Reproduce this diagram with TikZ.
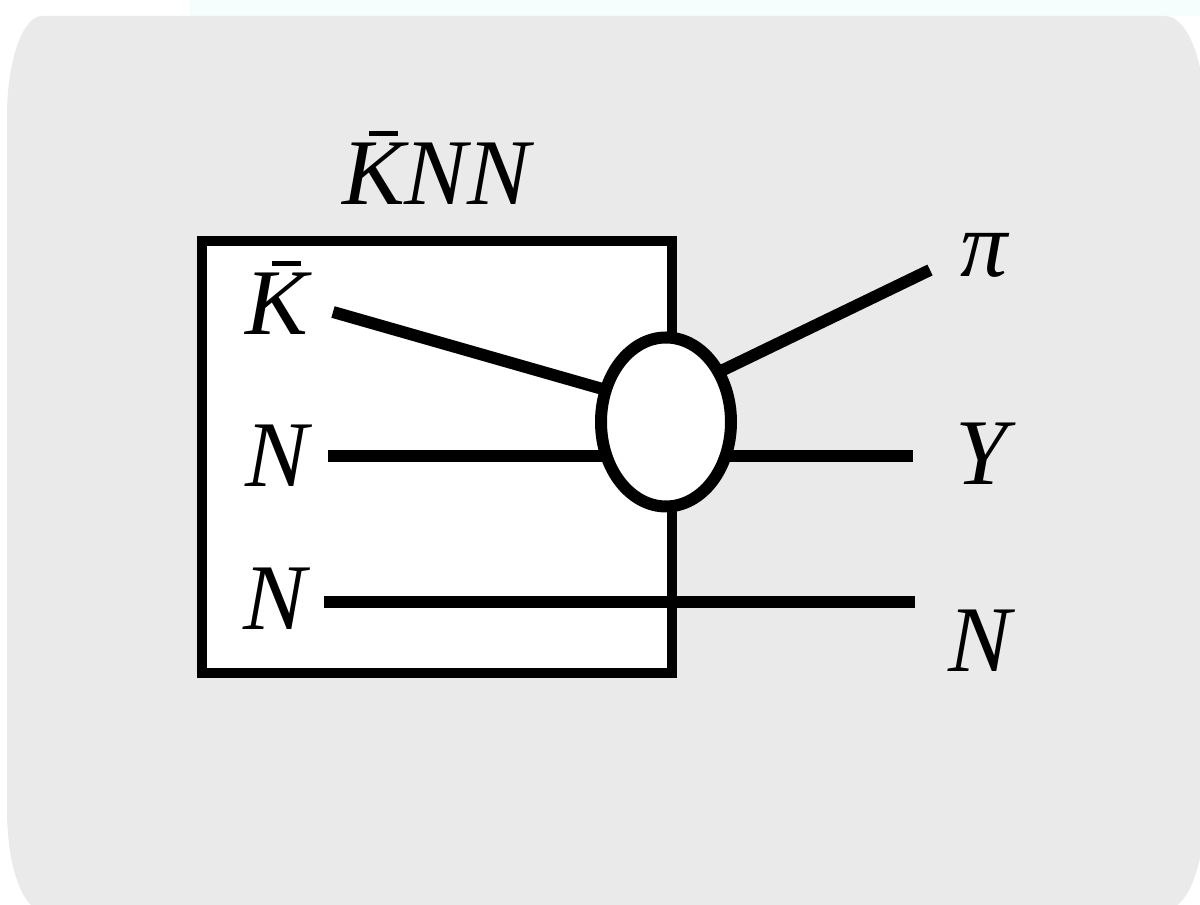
\documentclass[tikz,border=0pt]{standalone}
\usepackage{fontspec}
\setmainfont{Liberation Serif}[ItalicFont={Liberation Serif Italic}]
\usetikzlibrary{shapes.geometric}
\definecolor{panelgrey}{RGB}{234,234,234}
\definecolor{faintcyan}{RGB}{246,253,253}
\newcommand\barK{\rlap{\kern 27pt\raisebox{69pt}{\rule{29pt}{4.5pt}}}K}
\begin{document}
\begin{tikzpicture}[x=1pt,y=1pt,
  lbl/.style={anchor=base west,inner sep=0pt,font=\fontsize{94}{100}\selectfont\itshape},
  leg/.style={line width=12pt,line cap=butt},
  boxline/.style={line width=10pt,line join=miter}]
\useasboundingbox (0,0) rectangle (1200,905);
\clip (0,0) rectangle (1200,905);
\fill[white] (0,0) rectangle (1200,905);
\fill[faintcyan] (190,889) rectangle (1200,905);
\fill[panelgrey] (42,889) -- (1165,889)
  arc[start angle=90,end angle=0,x radius=40,y radius=100] -- (1205,95)
  arc[start angle=0,end angle=-90,x radius=40,y radius=100] -- (42,-5)
  arc[start angle=270,end angle=180,x radius=35,y radius=100] -- (7,789)
  arc[start angle=180,end angle=90,x radius=35,y radius=100] -- cycle;
% box
\draw[boxline,fill=white] (202,232) rectangle (672,664);
% labels
\node[lbl] (title) at (342,700) {\barK NN};
\node[lbl] (kbar) at (245,570) {\barK};
\node[lbl] (n1) at (245,418) {N};
\node[lbl] (n2) at (243,275) {N};
\node[lbl] (pi) at (960,628) {π};
\node[lbl] (y) at (955,420) {Y};
\node[lbl] (nout) at (948,233) {N};
% leg end points
\coordinate (kstart) at (333,593);
\coordinate (kend) at (620,511);
\coordinate (n1start) at (328,449);
\coordinate (yend) at (913,449);
\coordinate (n2start) at (324,303);
\coordinate (n2end) at (915,303);
\coordinate (pistart) at (690,519);
\coordinate (piend) at (930,635);
\draw[leg] (kstart) -- (kend);
\draw[leg] (n1start) -- (yend);
\draw[leg] (n2start) -- (n2end);
\draw[leg] (pistart) -- (piend);
% vertex
\node[ellipse,draw,fill=white,line width=12pt,inner sep=0pt,
  minimum width=130pt,minimum height=169pt] (vertex) at (666,483) {};
\end{tikzpicture}
\end{document}
